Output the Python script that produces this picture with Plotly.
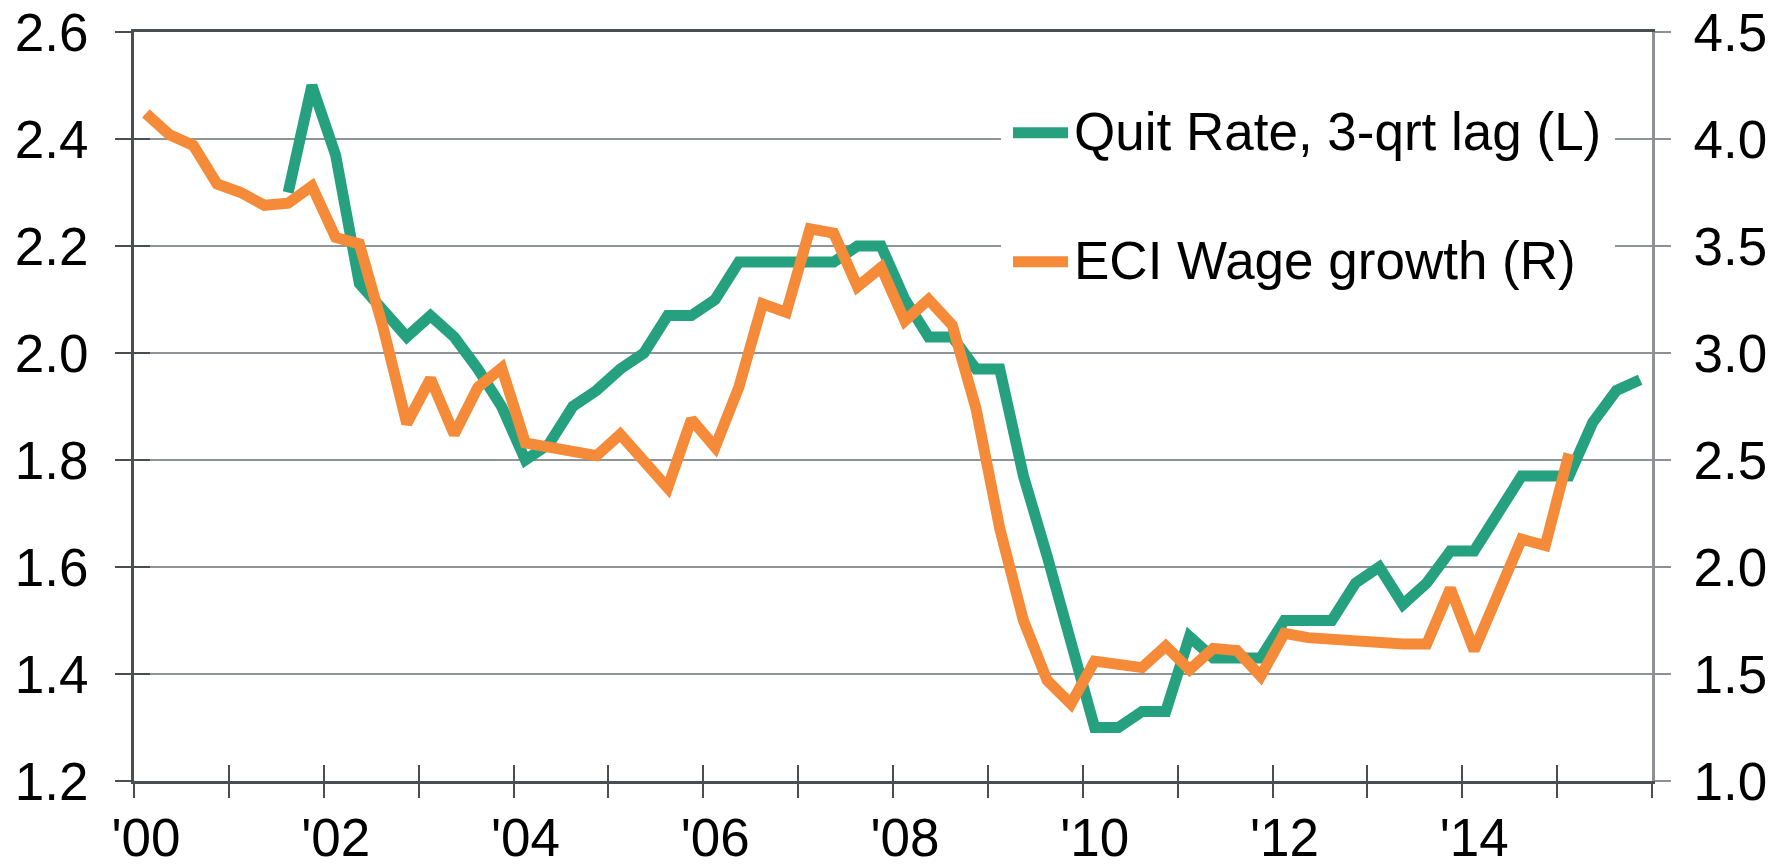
import plotly.graph_objects as go

# ---- data (quarterly, 2000Q1 .. 2015Q4) ----
years = list(range(2000, 2016))
quarters = [f"{y}Q{q}" for y in years for q in range(1, 5)]

# ECI wage growth (right axis), 2000Q1 .. 2015Q1
eci_wage = [4.12, 4.02, 3.97, 3.79, 3.75, 3.69, 3.70, 3.78, 3.54, 3.51,
            3.12, 2.67, 2.88, 2.62, 2.84, 2.93, 2.58, 2.56, 2.54, 2.52,
            2.62, 2.50, 2.37, 2.69, 2.56, 2.84, 3.23, 3.19, 3.58, 3.56,
            3.31, 3.40, 3.15, 3.25, 3.13, 2.74, 2.18, 1.75, 1.47, 1.36,
            1.56, 1.545, 1.53, 1.63, 1.52, 1.62, 1.61, 1.49, 1.69, 1.67,
            1.66, 1.655, 1.65, 1.64, 1.64, 1.90, 1.61, 1.88, 2.13, 2.10,
            2.53]

# Quit rate, 3-quarter lag (left axis), 2001Q3 .. 2015Q4
quit_start = 6
quit_rate = [2.30, 2.50, 2.37, 2.13, 2.08, 2.03, 2.07, 2.03, 1.97, 1.90,
             1.80, 1.83, 1.90, 1.93, 1.97, 2.00, 2.07, 2.07, 2.10, 2.17,
             2.17, 2.17, 2.17, 2.17, 2.20, 2.20, 2.10, 2.03, 2.03, 1.97,
             1.97, 1.77, 1.62, 1.46, 1.30, 1.30, 1.33, 1.33, 1.47, 1.43,
             1.43, 1.43, 1.50, 1.50, 1.50, 1.57, 1.60, 1.53, 1.57, 1.63,
             1.63, 1.70, 1.77, 1.77, 1.77, 1.87, 1.93, 1.95]

tick_years = list(range(2000, 2017))
tick_labels = [f"'{str(y)[2:]}" if (y % 2 == 0 and y <= 2014) else "" for y in tick_years]

left_ticks = [1.2, 1.4, 1.6, 1.8, 2.0, 2.2, 2.4, 2.6]
right_ticks = [1.0, 1.5, 2.0, 2.5, 3.0, 3.5, 4.0, 4.5]

legend_names = ["Quit Rate, 3-qrt lag (L)", "ECI Wage growth (R)"]

# ---- positions: each quarter centred in its slot ----
def qpos(label):
    y, q = label.split("Q")
    return int(y) + (int(q) - 0.5) / 4

x_eci = [qpos(q) for q in quarters[:len(eci_wage)]]
x_quit = [qpos(q) for q in quarters[quit_start:quit_start + len(quit_rate)]]

GREEN = "#26a17f"
ORANGE = "#f58a38"
DARK = "#4a4e53"
GRID = "#909397"
RGRAY = "#8d9094"
FONT = "Liberation Sans, Arial, sans-serif"
FS = 53
LW = 11

fig = go.Figure()
fig.add_trace(go.Scatter(x=x_quit, y=quit_rate, mode="lines", name=legend_names[0],
                         line=dict(color=GREEN, width=LW), xaxis="x", yaxis="y",
                         showlegend=False))
fig.add_trace(go.Scatter(x=x_eci, y=eci_wage, mode="lines", name=legend_names[1],
                         line=dict(color=ORANGE, width=LW), xaxis="x2", yaxis="y2",
                         showlegend=False))
# carrier for the inner half of the left tick marks
fig.add_trace(go.Scatter(x=[], y=[], xaxis="x", yaxis="y3", showlegend=False,
                         hoverinfo="skip"))

W, H = 1792, 866
L, T = 134, 32
pw, ph = 1518, 749
R, B = W - L - pw, H - T - ph

def px(x):
    return (x - L) / pw

def py(y):
    return (T + ph - y) / ph

tf = dict(family=FONT, size=FS, color="black")

fig.update_layout(
    width=W, height=H, autosize=False,
    margin=dict(l=L, r=R, t=T, b=B, pad=0),
    paper_bgcolor="white", plot_bgcolor="white",
    font=tf,
    showlegend=False,
    xaxis=dict(range=[2000, 2016], tickmode="array", tickvals=tick_years,
               ticktext=[""] * len(tick_years), ticks="inside", ticklen=16,
               tickwidth=2, tickcolor=DARK, showline=True, linecolor=DARK,
               linewidth=3, mirror=True, showgrid=False, zeroline=False,
               anchor="y", automargin=False),
    xaxis2=dict(range=[2000, 2016], overlaying="x", anchor="y2", side="bottom",
                tickmode="array", tickvals=tick_years, ticktext=tick_labels,
                ticks="outside", ticklen=16, tickwidth=2, tickcolor=DARK,
                ticklabelshift=12, ticklabelstandoff=-6, ticklabeloverflow="allow",
                tickfont=tf, automargin=False,
                showline=False, showgrid=False, zeroline=False),
    yaxis=dict(range=[1.2, 2.6], tickmode="array", tickvals=left_ticks,
               tickformat=".1f", ticks="outside", ticklen=16, tickwidth=2,
               tickcolor=DARK, showline=True, linecolor=DARK, linewidth=3,
               showgrid=True, gridcolor=GRID, gridwidth=2, zeroline=False,
               ticklabelstandoff=16, ticklabeloverflow="allow",
               tickfont=tf, anchor="x", automargin=False),
    yaxis2=dict(range=[1.0, 4.5], tickmode="array", tickvals=right_ticks,
                tickformat=".1f", overlaying="y", side="right", anchor="x2",
                ticks="outside", ticklen=16, tickwidth=2, tickcolor=RGRAY,
                showline=True, linecolor=RGRAY, linewidth=3, showgrid=False,
                ticklabelstandoff=12, ticklabeloverflow="allow",
                zeroline=False, tickfont=tf, automargin=False),
    yaxis3=dict(range=[1.2, 2.6], tickmode="array", tickvals=left_ticks,
                overlaying="y", side="left", anchor="x", ticks="inside",
                ticklen=16, tickwidth=2, tickcolor=DARK, showticklabels=False,
                showline=False, showgrid=False, zeroline=False, automargin=False),
)

# ---- legend (drawn manually to match original layout) ----
shapes = [dict(type="rect", xref="paper", yref="paper",
               x0=px(1001), x1=px(1615), y0=py(312), y1=py(62),
               fillcolor="white", line=dict(width=0), layer="above")]
legend_rows = [(legend_names[0], GREEN, 132.7), (legend_names[1], ORANGE, 261.7)]
annotations = []
for name, col, yc in legend_rows:
    shapes.append(dict(type="line", xref="paper", yref="paper",
                       x0=px(1013), x1=px(1068), y0=py(yc), y1=py(yc),
                       line=dict(color=col, width=LW), layer="above"))
    annotations.append(dict(text=name, xref="paper", yref="paper",
                            x=px(1072), y=py(yc - 1), xanchor="left",
                            yanchor="middle", showarrow=False, font=tf))
fig.update_layout(shapes=shapes, annotations=annotations)

# remove the default 8px page margin so the figure fills the window exactly
fig.write_html("out.html",
               config={"displayModeBar": False},
               post_script="document.body.style.margin='0';"
                           "document.body.style.overflow='hidden';")
